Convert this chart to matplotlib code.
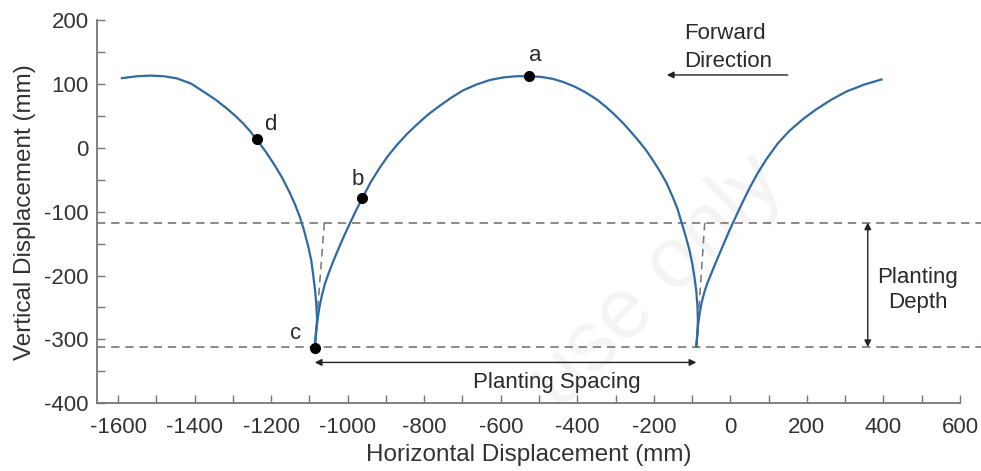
import matplotlib
matplotlib.use("Agg")

import matplotlib.pyplot as plt
from matplotlib.ticker import MultipleLocator

plt.rcParams["font.family"] = ["Liberation Sans", "DejaVu Sans"]
plt.rcParams["axes.unicode_minus"] = False

# Tip trajectory of the planting mechanism (mm), read in three arches
arch1_x = [-1590, -1550, -1516, -1480, -1447, -1410, -1377, -1345, -1316, -1295,
           -1273, -1255, -1238, -1215, -1194, -1172, -1151, -1138, -1125, -1114,
           -1103, -1095, -1090, -1085, -1082, -1080, -1083, -1086]
arch1_y = [109, 112, 113, 112, 108.7, 100.7, 88, 75.2, 61.6, 50.7,
           38, 26, 13, -5.4, -24.3, -46, -70.7, -88.2, -108.4, -129.3,
           -154.6, -177, -199.5, -224.5, -245.5, -269.5, -290, -313]

arch2_x = [-1086, -1083, -1079, -1074, -1067, -1059, -1049, -1038, -1029, -1011,
           -994, -978, -962, -940, -916, -895, -872, -846, -820, -790,
           -759, -728, -698, -664, -629, -595, -560, -526, -495, -465,
           -437, -408, -379, -350, -325, -303, -281, -260, -240, -220,
           -202, -184, -167, -150, -138, -128, -117, -107, -100, -94,
           -89, -86, -85, -86, -89]
arch2_y = [-313, -292, -270, -250, -230, -212, -195, -178, -165, -140,
           -118, -98, -79, -54, -31, -13, 4, 21, 36, 52,
           66, 79, 90, 99, 106, 110, 112, 112, 111, 108,
           103, 96, 87, 76, 64, 52, 39, 25, 11, -4,
           -20, -37, -55, -78, -96, -116, -138, -160, -180, -202,
           -225, -249, -270, -290, -311]

arch3_x = [-89, -87, -84, -80, -75, -68, -59, -48, -35, -20,
           -3, 14, 32, 51, 72, 94, 124, 155, 190, 224,
           263, 303, 350, 395]
arch3_y = [-311, -295, -276, -258, -242, -226, -210, -194, -175, -154,
           -130, -108, -85, -62, -39, -18, 7, 27, 45, 60,
           75, 88, 99, 107]

# Marked positions along the path
point_names = ["a", "b", "c", "d"]
point_x = [-526, -962, -1086, -1238]
point_y = [112, -79, -313, 13]

depth_top = -117
depth_bottom = -312
cusp_x = [-1086, -89]
cusp_top_x = [-1061, -67]

fig = plt.figure(figsize=(9.81, 4.71), dpi=100)
ax = fig.add_axes([0.0989, 0.1437, 0.8797, 0.8138])

line_color = "#2f6aa3"
dash_color = "#7d7473"
spine_color = "#7d7473"
text_color = "#2a2a2a"

# reference levels and guides
for level in (depth_top, depth_bottom):
    ax.plot([-1655, 655], [level, level], ls=(0, (5, 3.5)), color=dash_color,
            lw=1.2, clip_on=False, zorder=1)
for x0, x1 in zip(cusp_x, cusp_top_x):
    ax.plot([x0, x1], [depth_bottom, depth_top], ls=(0, (5, 3.5)),
            color=dash_color, lw=1.1, zorder=1)

# trajectory
for xs, ys in ((arch1_x, arch1_y), (arch2_x, arch2_y), (arch3_x, arch3_y)):
    ax.plot(xs, ys, color=line_color, lw=1.6, zorder=3)

ax.plot(point_x, point_y, "o", color="black", ms=7, zorder=4)
label_offsets = {"a": (15, 32), "b": (-13, 30), "c": (-50, 22), "d": (35, 24)}
for name, px, py in zip(point_names, point_x, point_y):
    dx, dy = label_offsets[name]
    ax.text(px + dx, py + dy, name, fontsize=16, color=text_color,
            ha="center", va="center")

# planting spacing arrow
arrow_style = dict(arrowstyle="<|-|>", color="#222222", lw=1.0,
                   mutation_scale=10, shrinkA=0, shrinkB=0)
ax.annotate("", xy=(cusp_x[0], -336), xytext=(cusp_x[1], -336),
            arrowprops=arrow_style)
ax.text(-454, -367, "Planting Spacing", fontsize=16, color=text_color,
        ha="center", va="center")

# planting depth arrow
ax.annotate("", xy=(359, depth_top), xytext=(359, depth_bottom),
            arrowprops=arrow_style)
ax.text(489, -222, "Planting\nDepth", fontsize=16, color=text_color,
        ha="center", va="center", linespacing=1.25)

# forward direction
ax.annotate("", xy=(-166, 114), xytext=(150, 114),
            arrowprops=dict(arrowstyle="-|>", color="#222222", lw=1.0,
                            mutation_scale=10, shrinkA=0, shrinkB=0))
ax.text(-122, 157, "Forward\nDirection", fontsize=16, color=text_color,
        ha="left", va="center", linespacing=1.45)

# faint watermark behind everything
fig.text(0.67, 0.40, "use only", fontsize=62, color="#f4f4f4", rotation=45,
         ha="center", va="center", zorder=-1)

ax.set_xlim(-1655, 600)
ax.set_ylim(-400, 200)
ax.xaxis.set_major_locator(MultipleLocator(200))
ax.xaxis.set_minor_locator(MultipleLocator(100))
ax.yaxis.set_major_locator(MultipleLocator(100))
ax.yaxis.set_minor_locator(MultipleLocator(50))
ax.tick_params(which="both", direction="in", length=5.5, width=1.0,
               color=spine_color, labelsize=16, labelcolor="#333333")
ax.tick_params(axis="x", which="both", pad=10)
ax.tick_params(axis="y", which="both", pad=6)

for side in ("top", "right"):
    ax.spines[side].set_visible(False)
for side in ("left", "bottom"):
    ax.spines[side].set_color(spine_color)
    ax.spines[side].set_linewidth(1.3)
ax.spines["bottom"].set_bounds(-1655, 600)

ax.set_xlabel("Horizontal Displacement (mm)", fontsize=17.5, color="#333333",
              labelpad=4)
ax.set_ylabel("Vertical Displacement (mm)", fontsize=17.5, color="#333333",
              labelpad=6)
ax.patch.set_alpha(0)

fig.savefig("out.png", dpi=100)
